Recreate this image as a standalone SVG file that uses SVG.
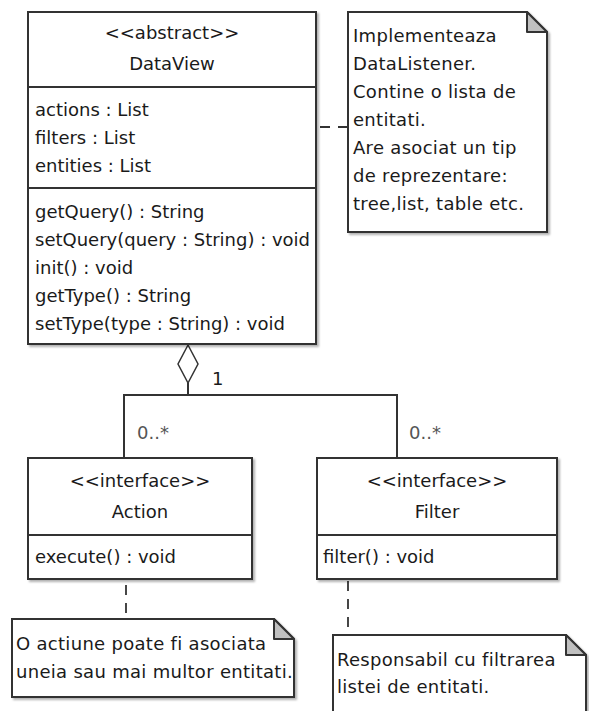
<svg xmlns="http://www.w3.org/2000/svg" width="589" height="711" viewBox="0 0 589 711">
<defs>
<style>
.box{fill:#fff;stroke:#333;stroke-width:2}
.ln{fill:none;stroke:#333;stroke-width:2}
.fold{fill:#c0c0c0;stroke:#333;stroke-width:2;stroke-linejoin:round}
.dash{fill:none;stroke:#333;stroke-width:1.8;stroke-dasharray:10,8}
text{font-family:"DejaVu Sans",Verdana,sans-serif;font-size:18px;fill:#1a1a1a}
.c{text-anchor:middle}
.m{fill:#555}
.n{letter-spacing:0.3px}
</style>
<filter id="sh" x="-10%" y="-10%" width="120%" height="120%">
<feDropShadow dx="2" dy="2" stdDeviation="1.2" flood-color="#000" flood-opacity="0.3"/>
</filter>
</defs>
<rect width="589" height="711" fill="#fff"/>
<g id="connectors">
<line class="dash" x1="316" y1="127" x2="348" y2="127" stroke-dashoffset="14"/>
<polygon points="188,345 178,364 188,383 198,364" fill="#fff" stroke="#333" stroke-width="1.5"/>
<polyline class="ln" points="188,383 188,395"/>
<polyline class="ln" points="124,458 124,395 397,395 397,458"/>
<text x="212" y="385">1</text>
<text class="m" x="137" y="439">0..*</text>
<text class="m" x="409" y="439">0..*</text>
<line class="dash" x1="126" y1="579" x2="126" y2="619" stroke-dasharray="12,8" stroke-dashoffset="12"/>
<line class="dash" x1="348" y1="579" x2="348" y2="635" stroke-dasharray="13,7" stroke-dashoffset="16"/>
</g>
<g id="DataView">
<rect class="box" x="28" y="12" width="288" height="332" filter="url(#sh)"/>
<line class="ln" x1="28" y1="87" x2="316" y2="87"/>
<line class="ln" x1="28" y1="188" x2="316" y2="188"/>
<text class="c" x="172" y="39">&lt;&lt;abstract&gt;&gt;</text>
<text class="c" x="172" y="70">DataView</text>
<text x="35" y="116">actions : List</text>
<text x="35" y="144">filters : List</text>
<text x="35" y="172">entities : List</text>
<text x="35" y="218">getQuery() : String</text>
<text x="35" y="246">setQuery(query : String) : void</text>
<text x="35" y="274">init() : void</text>
<text x="35" y="302">getType() : String</text>
<text x="35" y="330">setType(type : String) : void</text>
</g>
<g id="note-dataview">
<polygon class="box" points="348,12 527,12 547,32 547,232 348,232" filter="url(#sh)"/>
<polygon class="fold" points="527,12 527,32 547,32"/>
<text class="n" x="353" y="42">Implementeaza</text>
<text class="n" x="353" y="70">DataListener.</text>
<text class="n" x="353" y="98">Contine o lista de</text>
<text class="n" x="353" y="126">entitati.</text>
<text class="n" x="353" y="154">Are asociat un tip</text>
<text class="n" x="353" y="182">de reprezentare:</text>
<text class="n" x="353" y="210">tree,list, table etc.</text>
</g>
<g id="Action">
<rect class="box" x="28" y="458" width="224" height="121" filter="url(#sh)"/>
<line class="ln" x1="28" y1="535" x2="252" y2="535"/>
<text class="c" x="140" y="487">&lt;&lt;interface&gt;&gt;</text>
<text class="c" x="140" y="518">Action</text>
<text x="35" y="563">execute() : void</text>
</g>
<g id="Filter">
<rect class="box" x="317" y="458" width="240" height="121" filter="url(#sh)"/>
<line class="ln" x1="317" y1="535" x2="557" y2="535"/>
<text class="c" x="437" y="487">&lt;&lt;interface&gt;&gt;</text>
<text class="c" x="437" y="518">Filter</text>
<text x="323" y="563">filter() : void</text>
</g>
<g id="note-action">
<polygon class="box" points="12,619 274,619 294,639 294,697 12,697" filter="url(#sh)"/>
<polygon class="fold" points="274,619 274,639 294,639"/>
<text class="n" x="16" y="650">O actiune poate fi asociata</text>
<text class="n" x="16" y="678">uneia sau mai multor entitati.</text>
</g>
<g id="note-filter">
<polygon class="box" points="333,635 566,635 586,655 586,720 333,720" filter="url(#sh)"/>
<polygon class="fold" points="566,635 566,655 586,655"/>
<text class="n" x="337" y="666">Responsabil cu filtrarea</text>
<text class="n" x="337" y="693">listei de entitati.</text>
</g>
</svg>
